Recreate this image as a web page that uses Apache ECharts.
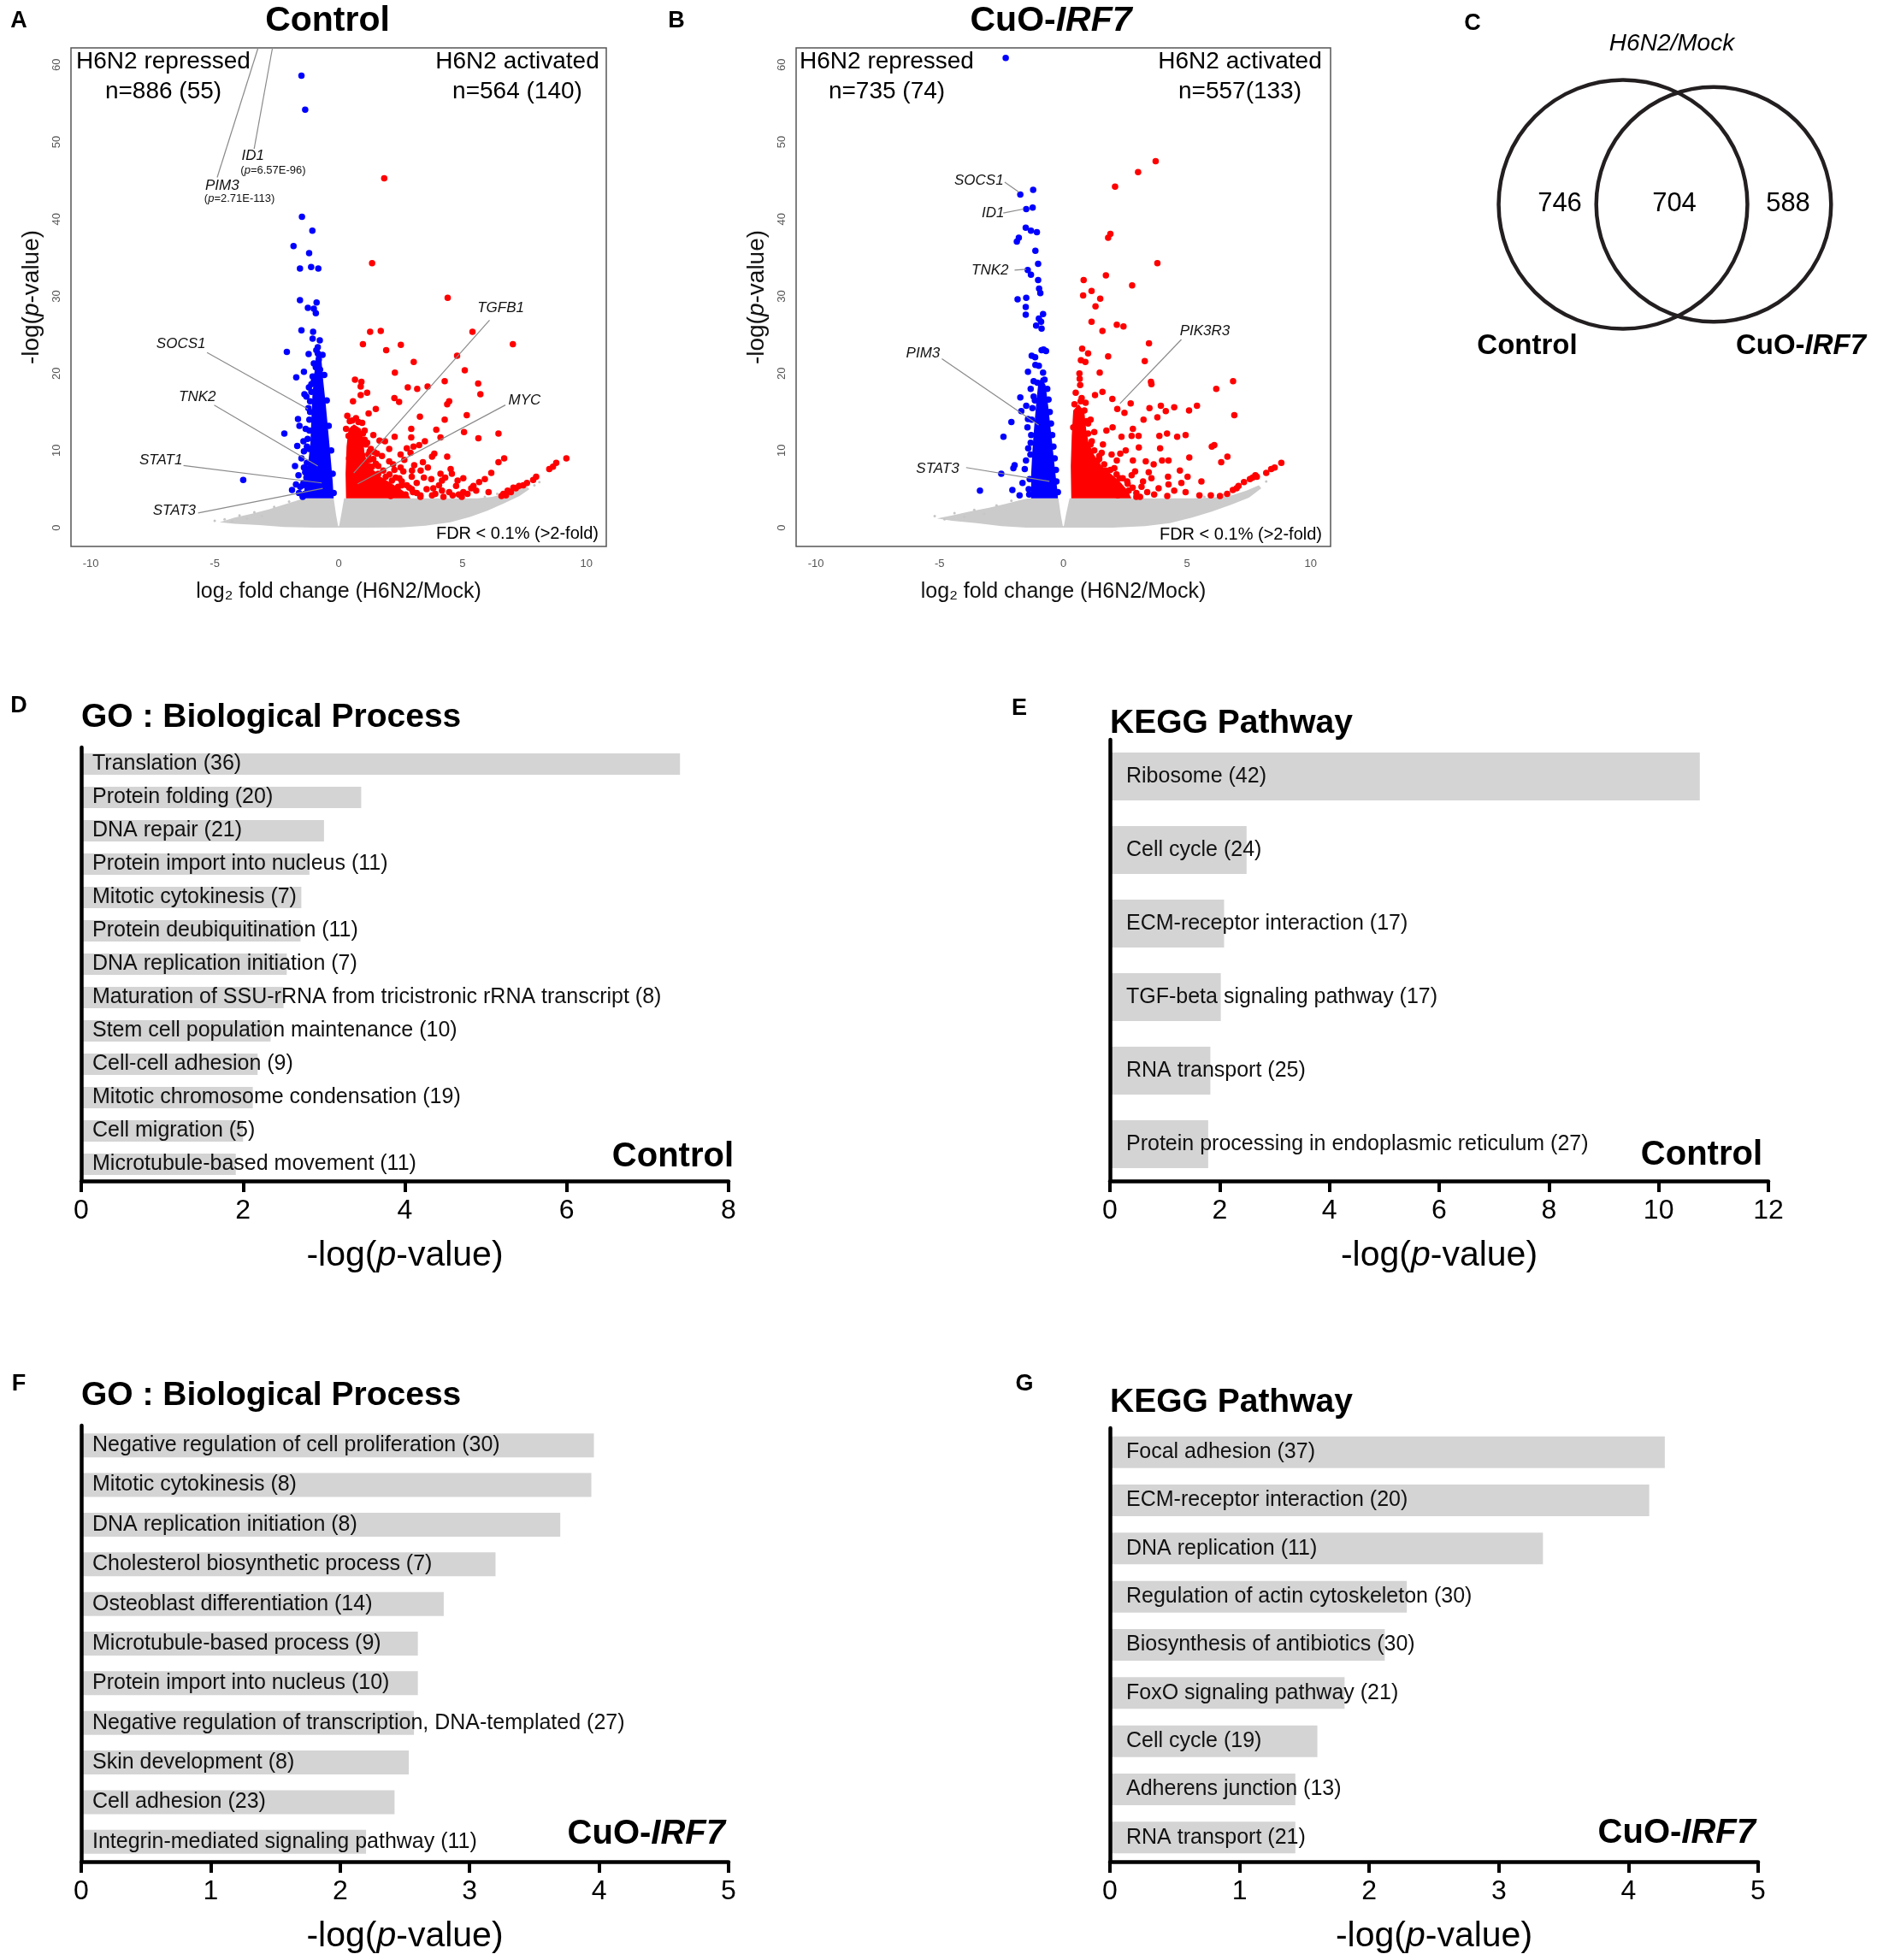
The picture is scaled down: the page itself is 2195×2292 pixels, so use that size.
<!DOCTYPE html>
<html><head><meta charset="utf-8">
<script src="https://cdn.jsdelivr.net/npm/echarts@6/dist/echarts.min.js"></script>
<style>html,body{margin:0;padding:0;background:#fff}#c{width:2195px;height:2292px}</style>
</head><body><div id="c"></div>
<script>
const FONT = '"Liberation Sans", Arial, Helvetica, sans-serif';

// ===================== Volcano plots (A: Control, B: CuO-IRF7) =====================
const volcanoXTicks = [-10, -5, 0, 5, 10];
const volcanoYTicks = [0, 10, 20, 30, 40, 50, 60];

// Panel A: repressed (blue) genes, individual points
const downA = [[-2.37,62.3],[-1.50,58.6],[-1.35,54.2],[-1.48,40.3],[-1.06,38.5],[-1.82,36.5],[-1.19,35.6],[-1.56,33.6],[-1.11,33.8],[-0.82,33.6],[-1.56,29.5],[-0.89,29.2],[-1.24,28.5],[-1.00,28.4],[-0.92,27.8],[-1.50,25.6],[-1.03,25.4],[-1.05,24.5],[-0.76,24.3],[-2.09,22.8],[-1.21,22.5],[-0.84,23.4],[-0.84,22.6],[-0.80,21.8],[-1.40,20.2],[-1.71,19.5],[-1.00,21.3],[-0.92,20.8],[-0.75,20.5],[-1.05,19.6],[-0.85,19.9],
[-1.30,17.0],[-1.38,17.3],[-1.20,18.2],[-1.10,18.6],[-0.95,18.8],[-2.19,12.2],[-1.64,14.1],[-1.58,13.2],[-1.67,10.6],[-1.76,8.0],[-1.72,5.6],[-1.88,4.9],[-3.85,6.2],[-1.37,4.4],[-1.55,5.3],[-1.45,5.5],[-1.62,6.8],[-1.30,6.5],[-1.35,7.2],[-1.50,9.0],[-1.40,9.9],[-1.25,11.5],[-1.33,12.8],[-1.18,14.0],[-1.22,15.5],[-1.15,16.4],[-1.60,4.5],[-1.45,4.2],[-1.28,8.4],[-1.40,7.8],[-1.28,10.5],[-1.42,11.2],
[-1.45,4.0],[-1.42,5.8],[-1.30,7.6],[-1.20,10.2],[-1.18,12.6],[-1.15,15.0],[-1.10,17.6],[-1.00,19.0],[-0.90,23.0],[-0.65,22.4],[-0.58,19.8],[-0.48,16.5],[-0.40,13.2],[-0.30,10.0],[-0.24,7.0],[-0.20,4.5]];
// Panel A: activated (red) genes
const upA = [[1.84,45.3],[1.35,34.3],[4.40,29.8],[5.40,25.4],[1.27,25.4],[1.70,25.5],[7.03,23.8],[0.98,23.8],[2.51,23.7],[1.92,23.0],[4.78,22.3],[3.03,21.5],[5.09,20.4],[2.27,20.1],[0.66,19.2],[0.92,18.9],[4.28,19.0],[5.63,18.7],[0.89,18.3],[3.59,18.3],[2.79,18.2],[3.17,18.0],[1.15,17.5],[5.72,17.3],[0.89,17.2],[2.25,16.8],[2.44,16.3],[0.58,16.4],[4.46,16.4],[4.38,16.0],[1.50,15.4],[1.21,14.8],[3.28,14.4],[5.17,14.6],[4.28,14.0],[2.93,12.8],[3.94,12.7],[5.06,12.4],[6.45,12.2],[5.64,11.6],[2.26,11.8],[2.93,11.7],[1.87,11.2],[3.48,11.2],[3.25,10.7],[3.02,10.5],[4.11,11.7],[2.04,10.2],[1.44,9.8],[2.50,9.5],[2.90,9.7],[3.86,9.6],[3.77,9.2],[4.38,9.2],[6.68,9.0],[6.45,8.5],[9.19,9.0],[8.78,8.4],[8.50,7.6],[8.65,7.9],[6.16,7.1],[7.97,6.6],[7.85,6.2],[7.60,5.8],[7.28,5.4],[7.05,5.2],[6.82,4.8],[6.65,4.4],[6.57,4.1],[6.95,4.6],[7.15,5.1],[7.45,5.5],[6.75,4.2],
[3.40,8.5],[2.04,8.6],[2.50,7.8],[2.25,7.5],[2.61,7.3],[2.96,7.4],[3.31,7.4],[4.52,7.6],[4.57,7.0],[4.11,7.0],[3.74,6.3],[3.44,6.5],[5.03,6.4],[4.80,6.1],[5.67,5.9],[5.44,5.4],[4.17,6.1],[4.74,5.4],[3.82,5.1],[4.17,4.8],[3.77,4.2],[4.23,4.0],[4.46,4.6],[5.03,4.6],[4.97,4.0],[4.85,4.3],
[1.25,8.8],[1.35,7.9],[1.50,8.3],[1.60,7.0],[1.45,6.2],[1.70,5.6],[1.90,6.6],[1.30,5.2],[1.55,4.6],[1.85,4.3],[2.00,5.2],[2.15,6.1],[1.75,9.3],[1.30,10.2],[1.55,9.6],[1.65,11.3],[1.40,12.0],[2.10,4.1],[2.35,4.7],[2.55,5.5],[2.70,4.3],[2.45,6.4],[2.85,5.2],[3.00,4.6],[3.15,5.8],[2.95,6.6],[3.30,4.2],[3.55,5.0],[2.20,8.2],[2.65,8.8],[2.75,10.3],[3.60,7.8],[3.05,8.1],[3.90,4.4],[4.05,5.5],[4.30,6.5],[4.60,4.2],[5.20,4.4],[5.35,5.1],[5.55,4.8],[5.90,6.3],[6.05,4.6],
[0.30,12.8],[0.45,13.8],[0.70,14.2],[0.95,13.6],[1.05,12.6],[1.15,11.0],[0.35,14.5],[0.60,12.8],[1.20,9.5],
[1.10,10.8],[1.25,9.9],[1.40,8.9],[1.60,8.0],[1.80,7.4],[2.05,6.9],[2.30,6.5],[2.55,6.0],[2.75,5.5],[2.95,5.0],[3.15,4.5],[3.30,4.0],[0.55,13.9],[0.80,13.7],[0.98,12.2],[1.05,11.4],[0.40,11.9],[0.75,11.6],[1.20,8.0],[0.95,9.4],[1.80,4.9],[2.40,5.3],[0.42,9.0],[0.85,7.2],[1.00,5.6]];
// Panel A: dense cores and non-significant cloud (outlines)
const coreDownA = [[-1.40,3.8],[-1.36,6],[-1.24,8],[-1.14,11],[-1.10,14],[-1.06,17],[-0.98,20],[-0.90,22.5],[-0.80,23.2],[-0.70,22],[-0.62,19],[-0.52,16],[-0.42,12.5],[-0.32,9],[-0.24,6],[-0.20,3.8]];
const coreUpA = [[0.30,3.8],[0.28,7],[0.32,10.5],[0.40,12.8],[0.62,13.4],[0.90,12.8],[1.00,11.2],[1.05,9.4],[1.30,7.8],[1.70,6.6],[2.10,5.8],[2.50,5.0],[2.80,4.3],[2.90,3.8]];
const bgA = [[-4.8,0.7],[-4.2,1.3],[-3.5,1.8],[-2.8,2.4],[-2.2,3.0],[-1.7,3.5],[-1.4,3.8],[-0.2,3.8],[-0.1,1.6],[-0.02,0.2],[0.02,0.2],[0.1,1.6],[0.22,3.8],[4.8,3.8],[5.6,3.8],[6.2,4.0],[6.6,4.3],[7.2,4.9],[7.6,5.3],[7.7,5.0],[7.3,4.1],[6.7,3.2],[6.0,2.2],[5.3,1.4],[4.5,0.7],[3.5,0.25],[2.5,0.05],[1.0,0],[-1.0,0],[-2.2,0.1],[-3.2,0.35],[-4.2,0.5]];
const specksA = [[-4.6,1.1],[-4.3,0.8],[-4.0,1.6],[-3.7,1.2],[-3.4,2.0],[-3.1,1.5],[-5.0,0.9],[-2.6,2.7],[-2.0,3.4],[7.9,5.5],[8.1,5.9],[5.9,4.0],[6.4,4.4]];
const summaryA = ['H6N2 repressed\nn=886 (55)', 'H6N2 activated\nn=564 (140)'];
const genesA = [
  {g:'PIM3', t:[-4.70,44.3], note:'({i|p}=2.71E-113)', n:[-4.0,42.6], a:[-4.90,45.4], b:[-3.25,62.2]},
  {g:'ID1', t:[-3.46,48.2], note:'({i|p}=6.57E-96)', n:[-2.64,46.3], a:[-3.41,49.1], b:[-2.67,62.2]},
  {g:'SOCS1', t:[-6.36,23.8], a:[-5.31,22.7], b:[-1.24,15.4]},
  {g:'TNK2', t:[-5.70,16.9], a:[-5.02,15.9], b:[-0.84,8.0]},
  {g:'STAT1', t:[-7.17,8.7], a:[-6.26,8.06], b:[-0.68,5.8]},
  {g:'STAT3', t:[-6.63,2.2], a:[-5.67,1.9], b:[-0.64,5.1]},
  {g:'TGFB1', t:[6.54,28.5], a:[6.09,26.9], b:[0.61,7.1]},
  {g:'MYC', t:[7.50,16.5], a:[6.73,15.9], b:[0.77,5.7]}
];

// Panel B
const downB = [[-2.33,60.9],[-1.74,43.2],[-1.22,43.8],[-1.50,41.3],[-1.24,41.5],[-1.52,38.9],[-1.31,38.5],[-1.07,38.3],[-1.80,37.6],[-1.88,37.1],[-1.13,35.9],[-1.02,34.2],[-1.44,33.4],[-1.31,32.8],[-1.02,32.1],[-0.98,31.0],[-0.93,30.4],[-1.85,29.6],[-1.50,29.8],[-1.52,28.6],[-1.52,27.6],[-0.82,27.7],[-0.99,27.1],[-0.90,26.7],[-1.10,26.2],[-0.88,25.8],[-0.88,23.0],[-0.70,22.9],[-0.80,23.1],[-1.28,22.3],[-1.14,22.1],[-1.13,21.1],[-1.43,20.2],[-0.99,21.0],[-0.82,20.1],[-0.76,19.2],[-1.32,18.0],[-1.20,19.0],[-1.74,16.9],[-1.50,15.8],[-1.70,15.1],[-1.43,14.1],[-2.10,13.7],[-1.45,13.0],[-2.42,11.8],[-1.42,10.3],[-1.51,8.7],[-1.97,8.1],[-2.02,7.7],[-1.56,7.6],[-2.51,7.0],[-1.65,5.8],[-3.37,4.8],[-2.06,4.9],[-1.77,4.2],[-1.36,6.3],[-1.40,5.0],[-1.33,9.5],[-1.30,12.0],[-1.25,15.5],[-1.20,17.0],[-1.05,18.8],[-0.65,18.0],[-0.55,15.0],[-0.45,12.0],[-0.35,9.0],[-0.28,6.0],[-1.38,4.3],[-1.32,11.0],[-1.28,14.0],[-1.15,16.5],[-0.60,16.6],[-0.50,13.5],[-0.40,10.5],[-0.30,7.5],[-0.22,4.6]];
const upB = [[3.73,47.5],[3.02,46.1],[2.09,44.2],[1.90,38.1],[1.81,37.6],[3.80,34.3],[0.82,32.1],[1.72,32.7],[2.78,31.4],[1.14,30.7],[0.80,30.1],[1.49,29.7],[1.30,28.7],[1.14,26.7],[1.58,25.5],[2.16,26.3],[2.43,26.1],[3.46,23.9],[0.76,23.2],[1.00,22.6],[1.81,22.2],[3.29,21.6],[0.71,21.7],[0.89,21.5],[1.47,20.1],[0.65,20.0],[3.56,18.6],[3.54,18.9],[0.66,19.3],[0.68,18.5],[6.86,19.0],[6.18,18.0],[1.28,17.2],[1.58,17.6],[1.98,16.7],[0.74,16.8],[2.18,15.4],[2.72,16.1],[2.47,14.9],[3.48,15.5],[3.94,15.8],[4.14,15.1],[4.48,15.6],[5.08,15.2],[5.40,15.8],[6.91,14.6],[3.24,14.0],[3.80,14.3],[1.99,13.0],[2.81,12.8],[1.74,12.6],[3.88,11.9],[4.19,12.2],[4.60,11.8],[4.94,12.0],[2.35,11.8],[2.76,11.9],[3.04,11.9],[6.10,10.7],[6.00,10.5],[3.91,10.3],[3.05,10.4],[2.52,10.0],[1.95,9.5],[1.55,9.7],[3.33,8.6],[3.65,8.2],[3.99,8.7],[4.25,8.7],[5.09,9.1],[6.63,9.2],[6.38,8.5],[2.16,8.7],[2.81,8.7],[8.81,8.4],[8.40,7.6],[8.54,7.8],[7.76,6.8],[7.82,6.6],[7.54,6.3],[7.30,5.9],[7.08,5.4],[6.85,4.9],[6.62,4.4],[6.33,4.1],[5.96,4.2],[5.58,6.0],[5.02,6.6],[4.71,7.4],[4.77,5.8],[4.48,4.8],[4.94,4.6],[4.25,5.6],[3.85,5.1],[4.23,6.6],[3.56,6.4],[3.22,6.0],[3.67,4.3],[3.39,4.6],[3.16,5.3],[2.76,6.8],[2.58,6.0],[2.64,4.8],[2.39,4.4],[2.27,6.4],[2.06,7.7],[1.72,7.4],[1.37,8.6],[1.14,7.8],[1.26,6.8],[1.83,5.8],[1.72,4.4],[5.50,4.2],[4.20,4.1],[2.95,4.0],[3.45,7.2],[2.30,9.6],[1.60,10.8],[1.25,12.4],[1.10,14.0],[0.50,17.5],[0.90,16.2],[0.45,16.0],[1.00,13.5],[1.15,11.2],[1.45,9.3],[2.00,5.3],[1.50,5.0],[2.90,7.3],[7.00,5.1],[7.65,6.5],[8.20,7.1],
[1.00,12.2],[1.10,10.8],[1.25,10.0],[1.45,8.9],[1.65,8.2],[1.90,7.5],[2.15,6.9],[2.40,6.4],[2.60,5.7],[2.80,5.2],[2.95,4.5],[3.10,4.0],[0.70,16.4],[0.85,15.2],[0.95,13.8],[0.40,13.0],[0.75,12.0],[0.55,9.8],[1.05,8.6],[1.30,5.9],[2.20,4.2]];
const coreDownB = [[-1.30,3.8],[-1.30,7],[-1.25,10],[-1.18,13],[-1.10,16],[-1.02,18.5],[-0.90,19.5],[-0.72,18.5],[-0.62,16],[-0.52,13],[-0.42,10],[-0.32,7],[-0.24,4.8],[-0.22,3.8]];
const coreUpB = [[0.32,3.8],[0.30,8],[0.34,12],[0.40,15.2],[0.62,16.0],[0.85,15.0],[0.92,12.8],[1.02,11.0],[1.25,9.4],[1.55,8.0],[1.95,6.9],[2.30,5.9],[2.60,4.8],[2.75,3.8]];
const bgB = [[-5.1,1.2],[-4.5,1.6],[-3.8,2.1],[-3.0,2.6],[-2.3,3.1],[-1.7,3.6],[-1.4,3.8],[-0.2,3.8],[-0.1,1.6],[-0.02,0.2],[0.02,0.2],[0.1,1.6],[0.25,3.8],[5.2,3.8],[6.0,3.9],[6.8,4.2],[7.4,4.8],[7.9,5.5],[8.0,5.1],[7.5,3.9],[6.8,3.0],[6.0,2.1],[5.2,1.3],[4.3,0.6],[3.3,0.2],[2.0,0],[-1.5,0],[-2.5,0.2],[-3.5,0.6],[-4.5,0.9]];
const specksB = [[-5.2,1.5],[-4.8,1.1],[-4.4,1.9],[-4.0,1.4],[-3.6,2.3],[-3.2,1.8],[-2.7,2.9],[-2.1,3.5],[8.2,6.0],[6.5,4.3],[5.7,4.0]];
const summaryB = ['H6N2 repressed\nn=735 (74)', 'H6N2 activated\nn=557(133)'];
const genesB = [
  {g:'SOCS1', t:[-3.41,45.0], a:[-2.37,44.8], b:[-1.79,43.5]},
  {g:'ID1', t:[-2.84,40.8], a:[-2.43,40.8], b:[-1.62,41.3]},
  {g:'TNK2', t:[-2.96,33.4], a:[-1.97,33.4], b:[-1.50,33.5]},
  {g:'PIM3', t:[-5.67,22.6], a:[-4.91,21.9], b:[-1.00,13.3]},
  {g:'STAT3', t:[-5.08,7.6], a:[-3.93,7.8], b:[-0.56,6.0]},
  {g:'PIK3R3', t:[5.72,25.5], a:[4.77,24.4], b:[2.29,16.1]}
];

// ===================== Venn (C) =====================
const vennNames = ['Control', 'CuO-IRF7'];
const vennCounts = [746, 704, 588]; // Control only, shared, CuO-IRF7 only
const vennTotals = [vennCounts[0] + vennCounts[1], vennCounts[1] + vennCounts[2]];

// ===================== Enrichment bars (D-G) =====================
const goControlTerms = ['Translation (36)','Protein folding (20)','DNA repair (21)','Protein import into nucleus (11)','Mitotic cytokinesis (7)','Protein deubiquitination (11)','DNA replication initiation (7)','Maturation of SSU-rRNA from tricistronic rRNA transcript (8)','Stem cell population maintenance (10)','Cell-cell adhesion (9)','Mitotic chromosome condensation (19)','Cell migration (5)','Microtubule-based movement (11)'];
const goControlValues = [7.40, 3.46, 3.00, 2.82, 2.72, 2.71, 2.54, 2.50, 2.34, 2.18, 2.12, 2.00, 1.91];
const keggControlTerms = ['Ribosome (42)','Cell cycle (24)','ECM-receptor interaction (17)','TGF-beta signaling pathway (17)','RNA transport (25)','Protein processing in endoplasmic reticulum (27)'];
const keggControlValues = [10.75, 2.49, 2.08, 2.02, 1.83, 1.79];
const goIrf7Terms = ['Negative regulation of cell proliferation (30)','Mitotic cytokinesis (8)','DNA replication initiation (8)','Cholesterol biosynthetic process (7)','Osteoblast differentiation (14)','Microtubule-based process (9)','Protein import into nucleus (10)','Negative regulation of transcription, DNA-templated (27)','Skin development (8)','Cell adhesion (23)','Integrin-mediated signaling pathway (11)'];
const goIrf7Values = [3.96, 3.94, 3.70, 3.20, 2.80, 2.60, 2.60, 2.57, 2.53, 2.42, 2.20];
const keggIrf7Terms = ['Focal adhesion (37)','ECM-receptor interaction (20)','DNA replication (11)','Regulation of actin cytoskeleton (30)','Biosynthesis of antibiotics (30)','FoxO signaling pathway (21)','Cell cycle (19)','Adherens junction (13)','RNA transport (21)'];
const keggIrf7Values = [4.28, 4.16, 3.34, 2.29, 2.12, 1.81, 1.60, 1.43, 1.43];

// ===================== helpers =====================
function volcanoX(gi) {
  return {gridIndex: gi, type: 'value', min: -10.8, max: 10.8,
    axisLine: {show: false}, axisTick: {show: false}, splitLine: {show: false},
    axisLabel: {customValues: volcanoXTicks, fontSize: 13, color: '#555', margin: 14, fontFamily: FONT},
    name: 'log\u2082 fold change (H6N2/Mock)', nameLocation: 'middle', nameGap: 41,
    nameTextStyle: {fontSize: 25, color: '#111', fontFamily: FONT}};
}
function volcanoY(gi) {
  return {gridIndex: gi, type: 'value', min: -2.43, max: 62.2,
    axisLine: {show: false}, axisTick: {show: false}, splitLine: {show: false},
    axisLabel: {customValues: volcanoYTicks, rotate: 90, fontSize: 13, color: '#555', margin: 10, fontFamily: FONT},
    name: '-log({i|p}-value)', nameLocation: 'middle', nameRotate: 90, nameGap: 32,
    nameTextStyle: {fontSize: 28, color: '#111', fontFamily: FONT, rich: {i: {fontStyle: 'italic', fontSize: 28, color: '#111', fontFamily: FONT}}}};
}
function poly(gi, pts, color, z) {
  return {type: 'custom', xAxisIndex: gi, yAxisIndex: gi, data: [[0, 0]], silent: true, z: z, clip: true,
    renderItem: function (p, api) {
      return {type: 'polygon', shape: {points: pts.map(function (v) { return api.coord(v); })}, style: {fill: color}};
    }};
}
function dots(gi, pts, color, size, z) {
  return {type: 'scatter', xAxisIndex: gi, yAxisIndex: gi, data: pts, symbolSize: size, silent: true, z: z, clip: true,
    itemStyle: {color: color, opacity: 1}};
}
function annot(gi, list) {
  return {type: 'custom', xAxisIndex: gi, yAxisIndex: gi, data: list.map(function (d) { return d.t; }), silent: true, z: 6, clip: false,
    renderItem: function (p, api) {
      const d = list[p.dataIndex];
      const a = api.coord(d.a), b = api.coord(d.b), t = api.coord(d.t);
      const children = [
        {type: 'line', shape: {x1: a[0], y1: a[1], x2: b[0], y2: b[1]}, style: {stroke: '#8a8a8a', lineWidth: 1.2}},
        {type: 'text', x: t[0], y: t[1], style: {text: d.g, fontSize: 17, fontStyle: 'italic', fontFamily: FONT, fill: '#111', align: 'center', verticalAlign: 'middle', textAlign: 'center', textVerticalAlign: 'middle'}}
      ];
      if (d.note) {
        const n = api.coord(d.n);
        children.push({type: 'text', x: n[0], y: n[1], style: {text: d.note, fontSize: 13, fontFamily: FONT, fill: '#111', align: 'center', verticalAlign: 'middle', textAlign: 'center', textVerticalAlign: 'middle',
          rich: {i: {fontStyle: 'italic', fontSize: 13, fontFamily: FONT, fill: '#111'}}}});
      }
      return {type: 'group', children: children};
    }};
}
function barX(gi, max, interval) {
  return {gridIndex: gi, type: 'value', min: 0, max: max, interval: interval, z: 5,
    axisLine: {show: true, lineStyle: {color: '#000', width: 4.5}},
    axisTick: {show: true, length: 13, lineStyle: {color: '#000', width: 4}},
    axisLabel: {fontSize: 32, color: '#000', margin: 19, fontFamily: FONT},
    splitLine: {show: false},
    name: '-log({i|p}-value)', nameLocation: 'middle', nameGap: 67,
    nameTextStyle: {fontSize: 41, color: '#000', fontFamily: FONT, rich: {i: {fontStyle: 'italic', fontSize: 41, color: '#000', fontFamily: FONT}}}};
}
function barY(gi, terms) {
  return {gridIndex: gi, type: 'category', data: terms, inverse: true, z: 5,
    axisLine: {show: true, onZero: false, lineStyle: {color: '#000', width: 4.5}},
    axisTick: {show: false}, axisLabel: {show: false}, splitLine: {show: false}};
}
function bars(gi, terms, values, bw, dist) {
  return {type: 'bar', xAxisIndex: gi, yAxisIndex: gi, silent: true, z: 2,
    data: values.map(function (v, i) { return {value: v, name: terms[i]}; }),
    barWidth: bw, itemStyle: {color: '#d4d4d4'},
    label: {show: true, position: 'insideLeft', distance: dist, formatter: '{b}', fontSize: 25, color: '#111', fontFamily: FONT}};
}
function txt(text, x, y, size, opts) {
  opts = opts || {};
  return {text: text, left: x, top: y, padding: 0, textAlign: opts.align || 'center', textVerticalAlign: opts.valign || 'middle',
    textStyle: {fontSize: size, fontWeight: opts.weight || 'normal', fontStyle: opts.style || 'normal', color: '#000', fontFamily: FONT, lineHeight: opts.lh,
      rich: {i: {fontStyle: 'italic', fontWeight: opts.weight || 'normal', fontSize: size, color: '#000', fontFamily: FONT}}}};
}

// ===================== Venn layout =====================
const vennCenters = [[1898, 239], [2004, 239]];
const vennK = 3.82;
const vennCountPos = [[1824, 238], [1958, 238], [2091, 238]];

const option = {
  animation: false,
  backgroundColor: '#fff',
  textStyle: {fontFamily: FONT},
  grid: [
    {left: 83, top: 56, width: 626, height: 583, show: true, borderColor: '#555', borderWidth: 1.5, backgroundColor: 'transparent'},
    {left: 931, top: 56, width: 625, height: 583, show: true, borderColor: '#555', borderWidth: 1.5, backgroundColor: 'transparent'},
    {left: 95, top: 874, width: 757, height: 507},
    {left: 1298, top: 865, width: 770, height: 516},
    {left: 95, top: 1667, width: 757, height: 510},
    {left: 1298, top: 1670, width: 758, height: 507}
  ],
  xAxis: [volcanoX(0), volcanoX(1), barX(2, 8, 2), barX(3, 12, 2), barX(4, 5, 1), barX(5, 5, 1)],
  yAxis: [volcanoY(0), volcanoY(1), barY(2, goControlTerms), barY(3, keggControlTerms), barY(4, goIrf7Terms), barY(5, keggIrf7Terms)],
  title: [
    txt('A', 22, 25, 27, {weight: 'bold'}),
    txt('Control', 383, 25, 41, {weight: 'bold'}),
    txt('B', 791, 25, 27, {weight: 'bold'}),
    txt('CuO-{i|IRF7}', 1229, 25, 41, {weight: 'bold'}),
    txt('C', 1722, 28, 27, {weight: 'bold'}),
    txt(summaryA[0], 191, 90, 28, {lh: 35}),
    txt(summaryA[1], 605, 90, 28, {lh: 35}),
    txt(summaryB[0], 1037, 90, 28, {lh: 35}),
    txt(summaryB[1], 1450, 90, 28, {lh: 35}),
    txt('FDR < 0.1% (>2-fold)', 700, 624, 20, {align: 'right'}),
    txt('FDR < 0.1% (>2-fold)', 1546, 625, 20, {align: 'right'}),
    txt('H6N2/Mock', 1955, 51, 28, {style: 'italic'}),
    txt(vennNames[0], 1786, 405, 33, {weight: 'bold'}),
    txt('CuO-{i|IRF7}', 2106, 405, 33, {weight: 'bold'}),
    txt('D', 22, 826, 27, {weight: 'bold'}),
    txt('GO : Biological Process', 95, 839, 39, {weight: 'bold', align: 'left'}),
    txt('Control', 858, 1353, 40, {weight: 'bold', align: 'right'}),
    txt('E', 1192, 829, 27, {weight: 'bold'}),
    txt('KEGG Pathway', 1298, 846, 39, {weight: 'bold', align: 'left'}),
    txt('Control', 2061, 1351, 40, {weight: 'bold', align: 'right'}),
    txt('F', 22, 1619, 27, {weight: 'bold'}),
    txt('GO : Biological Process', 95, 1632, 39, {weight: 'bold', align: 'left'}),
    txt('CuO-{i|IRF7}', 848, 2145, 40, {weight: 'bold', align: 'right'}),
    txt('G', 1198, 1619, 27, {weight: 'bold'}),
    txt('KEGG Pathway', 1298, 1640, 39, {weight: 'bold', align: 'left'}),
    txt('CuO-{i|IRF7}', 2053, 2144, 40, {weight: 'bold', align: 'right'})
  ],
  series: [
    poly(0, bgA, '#cbcbcb', 1), dots(0, specksA, '#c6c6c6', 3, 1),
    poly(0, coreDownA, '#0000ff', 3), poly(0, coreUpA, '#ff0000', 3),
    dots(0, downA, '#0000ff', 7.5, 4), dots(0, upA, '#ff0000', 7.5, 4),
    annot(0, genesA),
    poly(1, bgB, '#cbcbcb', 1), dots(1, specksB, '#c6c6c6', 3, 1),
    poly(1, coreDownB, '#0000ff', 3), poly(1, coreUpB, '#ff0000', 3),
    dots(1, downB, '#0000ff', 7.5, 4), dots(1, upB, '#ff0000', 7.5, 4),
    annot(1, genesB),
    bars(2, goControlTerms, goControlValues, 25, 13),
    bars(3, keggControlTerms, keggControlValues, 56, 19),
    bars(4, goIrf7Terms, goIrf7Values, 28, 13),
    bars(5, keggIrf7Terms, keggIrf7Values, 37, 19),
    {type: 'custom', coordinateSystem: 'none', silent: true, z: 5,
      data: vennTotals.map(function (t) { return [t]; }),
      renderItem: function (p, api) {
        const c = vennCenters[p.dataIndex];
        const r = vennK * Math.sqrt(vennTotals[p.dataIndex]);
        return {type: 'circle', shape: {cx: c[0], cy: c[1], r: r}, style: {fill: 'none', stroke: '#231f20', lineWidth: 4.5}};
      }},
    {type: 'custom', coordinateSystem: 'none', silent: true, z: 6,
      data: vennCounts.map(function (v) { return [v]; }),
      renderItem: function (p, api) {
        const c = vennCountPos[p.dataIndex];
        return {type: 'text', x: c[0], y: c[1], style: {text: String(vennCounts[p.dataIndex]), fontSize: 31, fontFamily: FONT, fill: '#000', align: 'center', verticalAlign: 'middle', textAlign: 'center', textVerticalAlign: 'middle'}};
      }}
  ]
};

const chart = echarts.init(document.getElementById('c'), null, {renderer: 'canvas'});
chart.setOption(option);
</script></body></html>
